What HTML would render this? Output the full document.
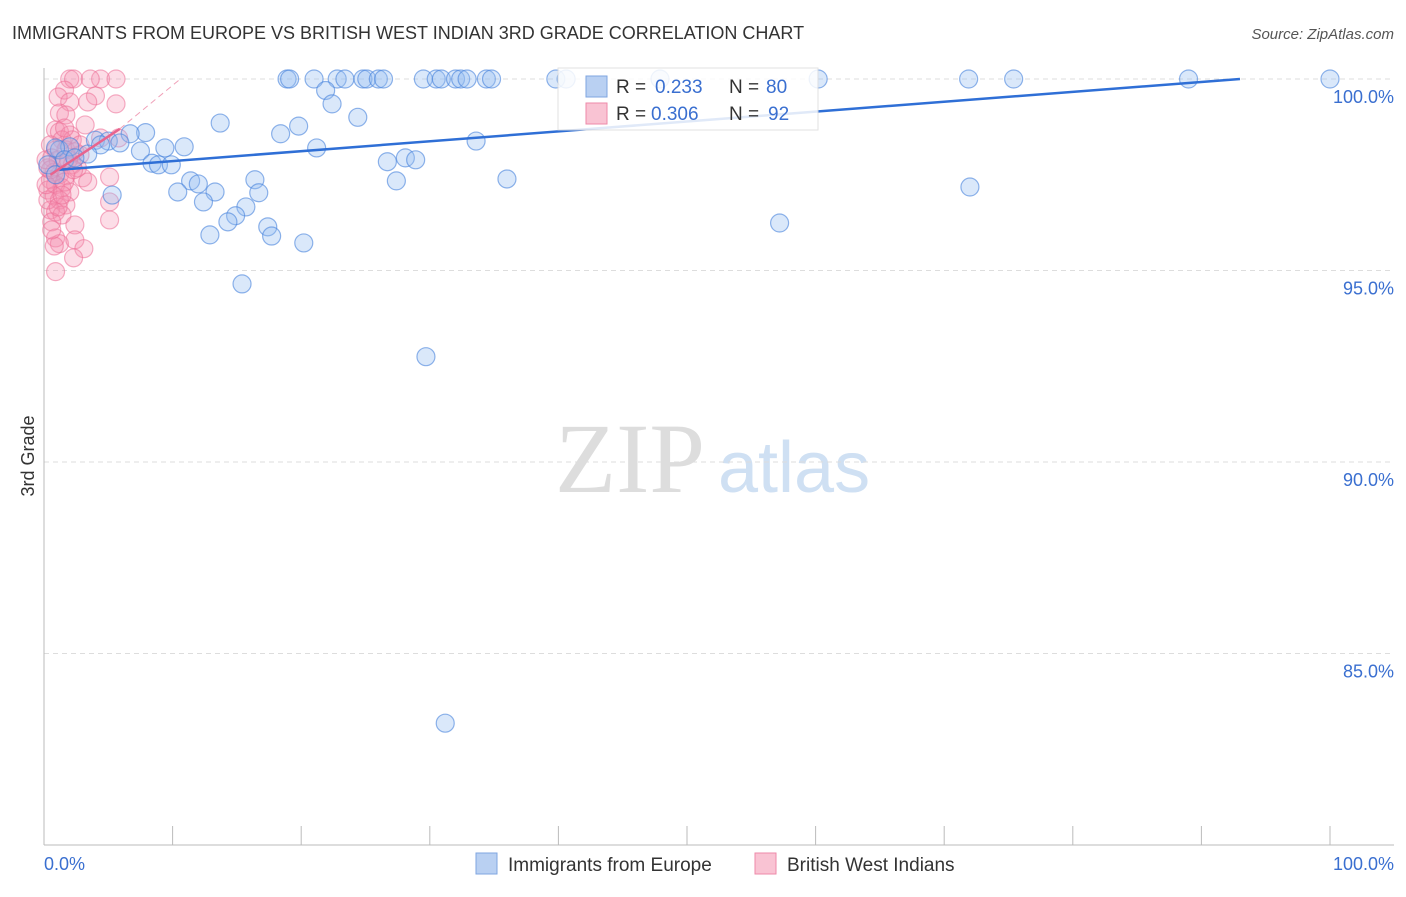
<!DOCTYPE html>
<html><head><meta charset="utf-8"><style>
body{margin:0;background:#fff;font-family:"Liberation Sans",sans-serif}
svg text{font-family:"Liberation Sans",sans-serif}
</style></head><body>
<svg id="c" width="1406" height="892" xmlns="http://www.w3.org/2000/svg">
<text x="12" y="39" font-size="18" fill="#333">IMMIGRANTS FROM EUROPE VS BRITISH WEST INDIAN 3RD GRADE CORRELATION CHART</text>
<text x="1394" y="39" font-size="15" fill="#555" font-style="italic" text-anchor="end">Source: ZipAtlas.com</text>
<text x="555" y="492" font-size="100" fill="#ddd" style="font-family:'Liberation Serif',serif">ZIP</text>
<text x="718" y="492" font-size="72" fill="#cfe0f3">atlas</text>
<text transform="translate(34,456) rotate(-90)" font-size="18" fill="#333" text-anchor="middle">3rd Grade</text>
<g id="grid"></g><g id="pts"></g><g id="lines"></g>
<g>
<rect x="558" y="68" width="260" height="62" fill="#fff" stroke="#ddd" opacity="0.85"/>
<rect x="586" y="76" width="21" height="21" fill="#b9d0f2" stroke="#7fa6e0"/>
<text x="616" y="93" font-size="19" fill="#333">R =</text>
<text x="655" y="93" font-size="19" fill="#3a6fd0">0.233</text>
<text x="729" y="93" font-size="19" fill="#333">N =</text>
<text x="766" y="93" font-size="19" fill="#3a6fd0">80</text>
<rect x="586" y="103" width="21" height="21" fill="#f9c3d3" stroke="#ee8aa8"/>
<text x="616" y="120" font-size="19" fill="#333">R =</text>
<text x="651" y="120" font-size="19" fill="#3a6fd0">0.306</text>
<text x="729" y="120" font-size="19" fill="#333">N =</text>
<text x="768" y="120" font-size="19" fill="#3a6fd0">92</text>
</g>
<g>
<rect x="476" y="853" width="21" height="21" fill="#b9d0f2" stroke="#7fa6e0"/>
<text x="508" y="871" font-size="19" fill="#333">Immigrants from Europe</text>
<rect x="755" y="853" width="21" height="21" fill="#f9c3d3" stroke="#ee8aa8"/>
<text x="787" y="871" font-size="19" fill="#333">British West Indians</text>
</g>
<text x="44" y="870" font-size="18" fill="#3a6fd0">0.0%</text>
<text x="1394" y="870" font-size="18" fill="#3a6fd0" text-anchor="end">100.0%</text>
</svg>
<script>
const yTicks=[100,95,90,85];
const blueX=[18.9,19.1,21.0,22.8,23.4,24.8,25.1,26.0,26.4,29.5,30.5,30.9,32.0,32.4,32.9,34.4,34.8,39.8,40.6,47.9,60.2,71.9,75.4,89.0,100,21.9,22.4,24.4,13.7,19.8,18.4,33.6,21.2,7.9,6.7,4.0,5.0,5.9,4.4,3.4,1.2,2.0,7.5,9.4,10.9,8.4,8.9,9.9,26.7,28.1,28.9,27.4,36.0,11.4,12.0,10.4,13.3,16.4,16.7,5.3,12.4,15.7,14.9,14.3,17.4,17.7,12.9,20.2,72.0,57.2,15.4,29.7,31.2,0.9,1.6,2.4,0.3,0.9];
const blueY=[100,100,100,100,100,100,100,100,100,100,100,100,100,100,100,100,100,100,100,100,100,100,100,100,100,99.7,99.35,99.0,98.85,98.77,98.57,98.38,98.2,98.6,98.57,98.4,98.38,98.33,98.28,98.04,98.15,98.23,98.12,98.2,98.23,97.8,97.76,97.76,97.84,97.94,97.89,97.34,97.39,97.34,97.26,97.05,97.05,97.37,97.03,96.97,96.79,96.66,96.43,96.27,96.14,95.9,95.93,95.72,97.18,96.24,94.65,92.75,83.18,98.2,97.89,97.94,97.76,97.5];
const pinkX=[2.0,2.3,4.4,5.6,3.6,1.6,4.0,1.1,2.0,3.4,5.6,1.2,1.7,3.2,0.9,1.2,2.0,1.4,4.4,5.8,0.5,0.9,1.7,2.4,2.8,0.6,1.1,1.6,2.2,2.6,0.3,0.8,1.2,1.7,3.0,3.4,5.1,0.5,0.9,1.4,2.0,0.3,0.8,1.2,1.7,5.1,0.5,0.9,1.4,0.6,5.1,2.4,0.9,1.2,2.4,3.1,0.8,2.3,0.9,0.3,0.6,1.1,1.6,0.16,0.5,2.2,2.8,1.6,1.9,2.3,0.16,1.4];
const pinkY=[100,100,100,100,100,99.71,99.56,99.53,99.4,99.4,99.35,99.11,99.06,98.8,98.67,98.62,98.54,98.41,98.46,98.46,98.28,98.15,98.15,98.1,98.02,97.94,97.89,97.84,97.76,97.68,97.68,97.57,97.5,97.47,97.42,97.31,97.44,97.37,97.24,97.16,97.05,97.1,96.95,96.84,96.71,96.79,96.58,96.53,96.45,96.27,96.32,96.19,95.85,95.7,95.8,95.57,95.64,95.33,94.97,96.84,96.06,96.66,97.31,97.24,97.63,98.41,98.28,98.72,97.89,97.63,97.89,96.97];
const blueTrend=[[1.2,97.63],[93,100]];
const pinkTrend=[[0.5,97.5],[5.9,98.7]];
const pinkDash=[[5.9,98.7],[10.6,100]];
const X0=44,X1=1330,Y100=79,Y80=845;
const sx=v=>X0+(X1-X0)*v/100;
const sy=v=>Y100+(100-v)*(Y80-Y100)/20;
const NS='http://www.w3.org/2000/svg';
function mk(t,a,p){const e=document.createElementNS(NS,t);for(const k in a)e.setAttribute(k,a[k]);p.appendChild(e);return e;}
const grid=document.getElementById('grid');
yTicks.forEach(t=>{
 const l=mk('line',{x1:X0,x2:1394,y1:sy(t),y2:sy(t),stroke:'#ddd','stroke-dasharray':'5,4'},grid);
 
 
 const tx=mk('text',{x:1394,y:sy(t)+24,'font-size':18,fill:'#3a6fd0','text-anchor':'end'},grid);
 tx.textContent=t.toFixed(1)+'%';
 
 
});
const ax=mk('line',{x1:X0,x2:X0,y1:68,y2:Y80,stroke:'#bbb'},grid);


const bx=mk('line',{x1:X0,x2:1394,y1:Y80,y2:Y80,stroke:'#bbb'},grid);


for(let i=0;i<=10;i++){const tk=mk('line',{x1:sx(i*10),x2:sx(i*10),y1:Y80,y2:Y80-19,stroke:'#bbb'},grid);
 
 }
const pts=document.getElementById('pts');
pinkX.forEach((x,i)=>{const c=mk('circle',{cx:sx(x),cy:sy(pinkY[i]),r:9,fill:'rgba(244,143,177,0.3)',stroke:'rgba(236,110,150,0.55)','stroke-width':1.2},pts);
 
 });
blueX.forEach((x,i)=>{const c=mk('circle',{cx:sx(x),cy:sy(blueY[i]),r:9,fill:'rgba(150,190,240,0.35)',stroke:'rgba(70,130,220,0.6)','stroke-width':1.2},pts);
 
 });
const lines=document.getElementById('lines');
const b=mk('line',{x1:sx(blueTrend[0][0]),y1:sy(blueTrend[0][1]),x2:sx(blueTrend[1][0]),y2:sy(blueTrend[1][1]),stroke:'#2f6fd6','stroke-width':2.5},lines);


const p=mk('line',{x1:sx(pinkTrend[0][0]),y1:sy(pinkTrend[0][1]),x2:sx(pinkTrend[1][0]),y2:sy(pinkTrend[1][1]),stroke:'#e8648e','stroke-width':2.5},lines);


const d=mk('line',{x1:sx(pinkDash[0][0]),y1:sy(pinkDash[0][1]),x2:sx(pinkDash[1][0]),y2:sy(pinkDash[1][1]),stroke:'#f0a0b8','stroke-width':1,'stroke-dasharray':'6,4'},lines);


</script>
</body></html>
